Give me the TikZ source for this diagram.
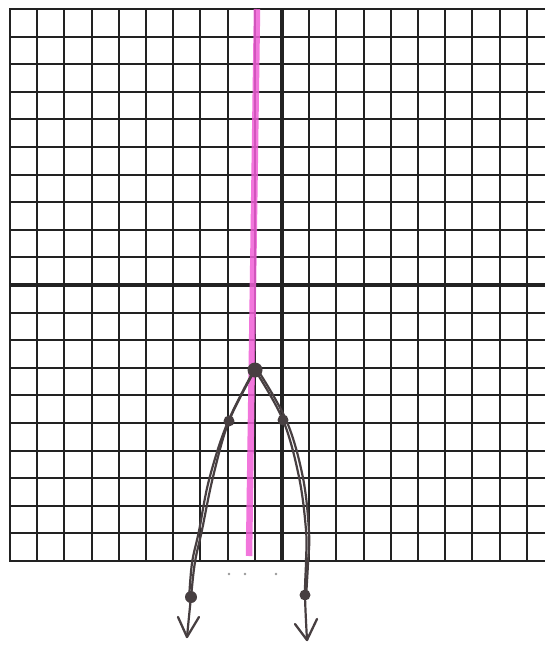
\documentclass[tikz,border=0pt]{standalone}
\usetikzlibrary{calc}
\definecolor{gridcol}{HTML}{222222}
\definecolor{pinkline}{RGB}{240,95,215}
\definecolor{curvecol}{HTML}{473F41}
\tikzset{
  gridline/.style={draw=gridcol, line width=2.1pt},
  axisline/.style={draw=gridcol, line width=3.2pt},
  symline/.style={draw=pinkline, line width=6.5pt, opacity=0.85},
  branch/.style={draw=curvecol, line width=2.2pt, line cap=round, line join=round},
  arrowv/.style={draw=curvecol, line width=2.3pt, line cap=round, line join=round},
  ptdot/.style={circle, fill=curvecol, inner sep=0pt},
  specdot/.style={circle, fill=black!40, inner sep=0pt, minimum size=2.8pt}
}
\begin{document}
\begin{tikzpicture}[x=1pt,y=-1pt]
\useasboundingbox[fill=white] (0,0) rectangle (545,646);
% grid
\foreach \k in {0,...,19}{
  \draw[gridline] ({10+27.2*\k},9) -- ({10+27.2*\k},561);
}
\foreach \k in {0,...,20}{
  \draw[gridline] (9,{9+27.6*\k}) -- (545,{9+27.6*\k});
}
% axes
\draw[axisline] (282,9) -- (282,561);
\draw[axisline] (9,285) -- (545,285);
% axis of symmetry
\draw[symline] (257,9) -- (249,556);
% points
\node[ptdot, minimum size=15pt] (V) at (255,370) {};
\node[ptdot, minimum size=11pt] (L1) at (229,421) {};
\node[ptdot, minimum size=11pt] (R1) at (283,420) {};
\node[ptdot, minimum size=12pt] (L2) at (191,597) {};
\node[ptdot, minimum size=11pt] (R2) at (305,595) {};
\coordinate (LT) at (187,637);
\coordinate (RT) at (307,640);
% left branch (double stroke)
\draw[branch] plot[smooth, tension=0.6] coordinates {(V.center) (L1.center) (213,477) (202,530) (195,562) (L2.center) (LT)};
\draw[branch] plot[smooth, tension=0.6] coordinates {(253,372) (227,424) (209,480) (199,531) (192,563) (189,600)};
% right branch (double stroke)
\draw[branch] plot[smooth, tension=0.6] coordinates {(V.center) (R1.center) (299,477) (306,530) (306,562) (R2.center) (RT)};
\draw[branch] plot[smooth, tension=0.6] coordinates {(259,372) (287,422) (303,478) (309,532) (308,563) (306,598)};
% arrowheads
\draw[arrowv] (178,617) -- (LT) -- (199,617);
\draw[arrowv] (295,624) -- (RT) -- (317,619);
% specks
\node[specdot] (s1) at (229,574) {};
\node[specdot] (s2) at (245,574) {};
\node[specdot] (s3) at (276,574) {};
\end{tikzpicture}
\end{document}
